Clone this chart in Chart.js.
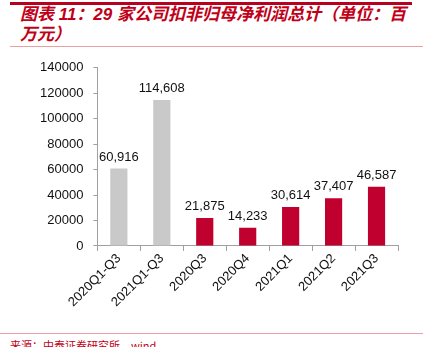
<!DOCTYPE html>
<html>
<head>
<meta charset="utf-8">
<script src="https://cdn.jsdelivr.net/npm/chart.js@4"></script>
<style>
  html, body { margin: 0; padding: 0; background: #fff; }
  body { width: 431px; height: 347px; position: relative; overflow: hidden; font-family: "Liberation Sans", Arial, sans-serif; }
  #topline { position: absolute; left: 10px; top: 2px; width: 402px; height: 3px; background: #b8001f; }
  #title { position: absolute; left: 20px; top: 5px; width: 395px; color: #c00018; font-size: 17px; font-weight: bold; font-style: italic; line-height: 20px; font-family: "Liberation Sans", "Noto Sans CJK SC", sans-serif; }
  #sep { position: absolute; left: 10px; top: 46px; width: 413px; height: 1px; background: #e8a0a0; }
  #foot { position: absolute; left: 0; top: 333px; width: 423px; height: 1px; background: #eaa0a8; }
  #src { position: absolute; left: 10px; top: 337px; color: #c00018; font-size: 11px; font-family: "Noto Sans CJK SC", sans-serif; }
  #wrap { position: absolute; left: 0; top: 50px; width: 431px; height: 270px; }
</style>
</head>
<body>
<div id="topline"></div>
<div id="title">图表 11：29 家公司扣非归母净利润总计（单位：百万元）</div>
<div id="sep"></div>
<div id="wrap"><canvas id="chart"></canvas></div>
<div id="foot"></div>
<div id="src">来源：中泰证券研究所，wind</div>
<script>
// 数据
const categories = ['2020Q1-Q3', '2021Q1-Q3', '2020Q3', '2020Q4', '2021Q1', '2021Q2', '2021Q3'];
const profit = [60916, 114608, 21875, 14233, 30614, 37407, 46587];
const barColors = ['#c9c9c9', '#c9c9c9', '#c0002f', '#c0002f', '#c0002f', '#c0002f', '#c0002f'];
const yTicks = [0, 20000, 40000, 60000, 80000, 100000, 120000, 140000];

// 柱顶数值标签
const valueLabels = {
  id: 'valueLabels',
  afterDatasetsDraw(chart) {
    const ctx = chart.ctx;
    const meta = chart.getDatasetMeta(0);
    ctx.save();
    ctx.font = '13px "Liberation Sans", Arial, sans-serif';
    ctx.fillStyle = '#111';
    ctx.textAlign = 'center';
    ctx.textBaseline = 'bottom';
    meta.data.forEach((bar, i) => {
      ctx.fillText(profit[i].toLocaleString('en-US'), bar.x, bar.y - 5);
    });
    ctx.restore();
  }
};

const ctx = document.getElementById('chart').getContext('2d');
new Chart(ctx, {
  type: 'bar',
  data: {
    labels: categories,
    datasets: [{
      data: profit,
      backgroundColor: barColors,
      barPercentage: 0.4,
      categoryPercentage: 1.0
    }]
  },
  options: {
    responsive: true,
    maintainAspectRatio: false,
    animation: false,
    layout: { padding: { top: 14, right: 33, left: 30, bottom: 10 } },
    plugins: { legend: { display: false }, tooltip: { enabled: false } },
    scales: {
      x: {
        offset: true,
        grid: { offset: true, drawOnChartArea: false, drawTicks: true, tickLength: 5, color: '#a0a0a0' },
        border: { color: '#a0a0a0' },
        ticks: {
          color: '#111',
          font: { size: 13, family: '"Liberation Sans", Arial, sans-serif' },
          maxRotation: 45, minRotation: 45, padding: 0
        }
      },
      y: {
        min: 0, max: 140000,
        afterBuildTicks: axis => { axis.ticks = yTicks.map(v => ({ value: v })); },
        grid: { drawOnChartArea: false, drawTicks: true, tickLength: 4, color: '#a0a0a0' },
        border: { color: '#a0a0a0' },
        ticks: {
          color: '#111',
          padding: 10,
          font: { size: 13, family: '"Liberation Sans", Arial, sans-serif' },
          callback: v => String(v)
        }
      }
    }
  },
  plugins: [valueLabels]
});
</script>
</body>
</html>
